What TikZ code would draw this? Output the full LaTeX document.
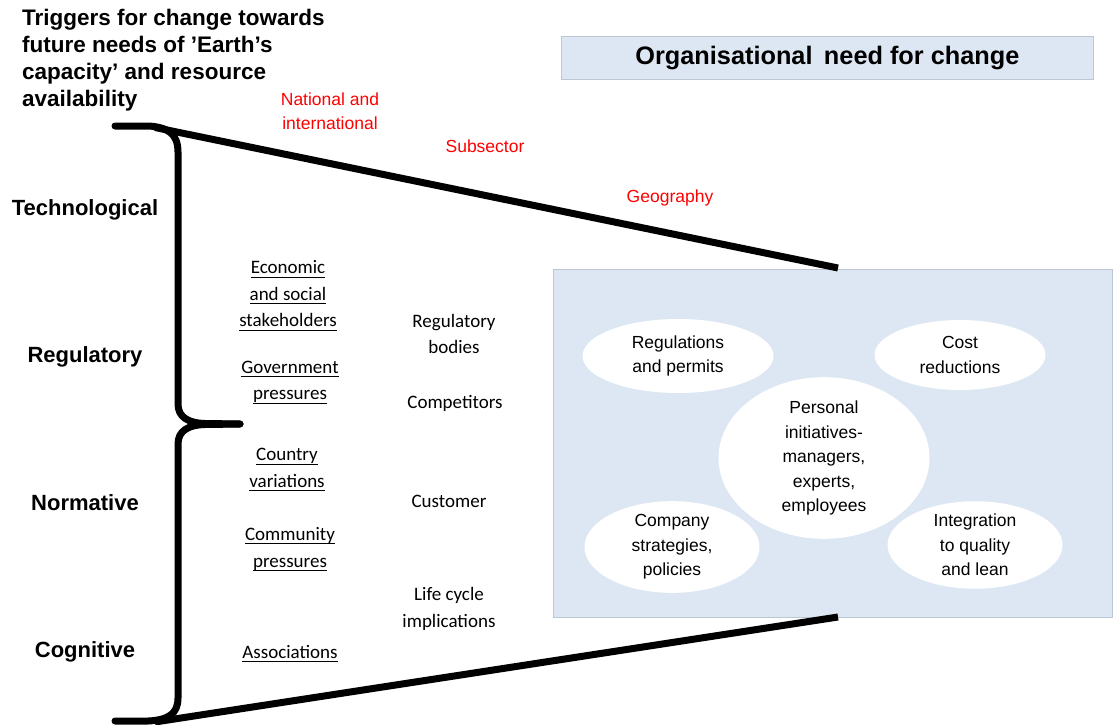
\documentclass[tikz,border=0pt]{standalone}
\usepackage{fontspec}
\setmainfont{Liberation Sans}
\newfontfamily\carlito{Carlito}
\usetikzlibrary{shapes.geometric}
\definecolor{panelfill}{RGB}{221,231,243}
\definecolor{panelline}{RGB}{188,198,212}
\definecolor{labelred}{RGB}{255,0,0}
% underline drawn at a fixed depth without changing the box size
\newsavebox\ulinebox
\newcommand\ulx[1]{\sbox\ulinebox{#1}\rlap{\smash{\rule[-3.6pt]{\wd\ulinebox}{0.9pt}}}\usebox\ulinebox}
\begin{document}
\begin{tikzpicture}[x=1pt,y=-1pt,
  heading/.style={font=\bfseries\fontsize{22.5}{27}\selectfont, align=left, inner sep=0, anchor=west},
  dimension/.style={font=\bfseries\fontsize{22}{26}\selectfont, inner sep=0},
  scopelabel/.style={font=\fontsize{17.5}{24}\selectfont, text=labelred, align=center, inner sep=0},
  trigger/.style={font=\carlito\fontsize{19}{26.5}\selectfont, align=center, inner sep=0},
  need/.style={ellipse, fill=white, draw=none, inner sep=0, align=center,
    font=\fontsize{17.5}{24.5}\selectfont},
  brace/.style={line width=7pt, line cap=round, line join=round},
  funnel/.style={line width=7pt}
]
\useasboundingbox (0,0) rectangle (1113,725);

% panel of organisational needs and its heading bar
\filldraw[fill=panelfill, draw=panelline, line width=1pt] (553,269) rectangle (1112.5,617);
\node (headbar) [fill=panelfill, draw=panelline, line width=0.8pt, minimum width=532, minimum height=43, anchor=north west, inner sep=0] at (561,36) {};
\node (headtext) [font=\bfseries\fontsize{25.3}{29}\selectfont, inner sep=0] at (headbar.center) {Organisational\hspace{0.45em}need for change};

% heading of the trigger side
\node (title) [heading] at (22,60) {Triggers for change towards\\future needs of ’Earth’s\\capacity’ and resource\\availability};

% brace grouping the four dimensions
\draw[brace] (115,126) -- (148,126) .. controls (168,127) and (178,134) .. (178,152)
  -- (178,404) .. controls (178,417) and (188,423) .. (205,423.5) -- (240,424);
\draw[brace] (240,424) -- (205,424.5) .. controls (188,425) and (178,431) .. (178,444)
  -- (178,698) .. controls (178,714) and (168,720) .. (148,721) -- (115,721);

% funnel edges
\coordinate (ftl) at (155,127.5);
\coordinate (ftr) at (838,268);
\coordinate (fbl) at (155,722);
\coordinate (fbr) at (838,617);
\draw[funnel] (ftl) -- (ftr);
\draw[funnel] (fbl) -- (fbr);

% dimensions
\node (tech) [dimension] at (85,210) {Technological};
\node (regu) [dimension] at (85,357) {Regulatory};
\node (norm) [dimension] at (85,503) {Normative};
\node (cogn) [dimension] at (85,652) {Cognitive};

% scope labels
\node (natl) [scopelabel] at (330,111) {National and\\international};
\node (subs) [scopelabel] at (485,146) {Subsector};
\node (geog) [scopelabel] at (670,198) {Geography};

% external triggers
\node (econ) [trigger] at (288,294) {\ulx{Economic}\\\ulx{and social}\\\ulx{stakeholders}};
\node (govt) [trigger] at (290,382) {\ulx{Government}\\\ulx{pressures}};
\node (ctry) [trigger] at (287,468) {\ulx{Country}\\\ulx{variations}};
\node (comm) [trigger] at (290,549) {\ulx{Community}\\\ulx{pressures}};
\node (assoc) [trigger] at (290,652) {\ulx{Associations}};
\node (rbod) [trigger] at (454,334) {Regulatory\\bodies};
\node (comp) [trigger] at (455,403) {Competitors};
\node (cust) [trigger] at (449,501) {Customer};
\node (life) [trigger] at (449,609) {Life cycle\\implications};

% internal needs
\node (regs) [need, minimum width=191, minimum height=74] at (678,356) {Regulations\\and permits};
\node (cost) [need, minimum width=171, minimum height=70] at (960,355) {Cost\\reductions};
\node (pers) [need, minimum width=211, minimum height=150] at (824,458) {Personal\\initiatives-\\managers,\\experts,\\employees};
\node (strat) [need, minimum width=175, minimum height=84] at (672,547) {Company\\strategies,\\policies};
\node (integ) [need, minimum width=175, minimum height=84] at (975,545) {Integration\\to quality\\and lean};
\end{tikzpicture}
\end{document}
